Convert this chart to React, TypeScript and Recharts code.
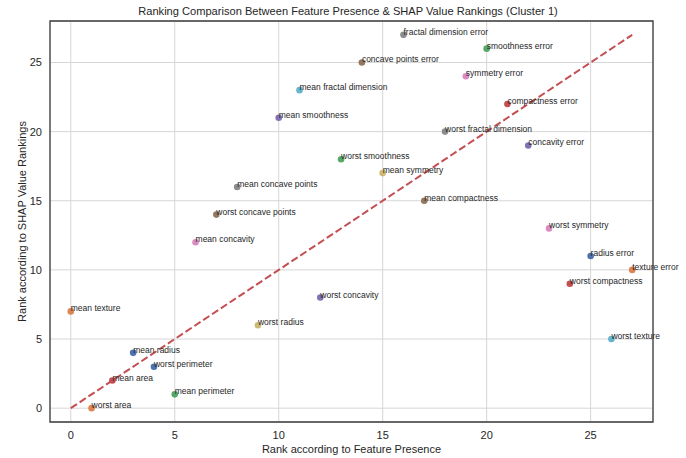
import React from "react";
import {
  ScatterChart,
  Scatter,
  XAxis,
  YAxis,
  CartesianGrid,
  ReferenceLine,
  ReferenceArea,
} from "recharts";

// Breast-cancer features kept for cluster 1, in plotting order
const features: string[] = [
  "mean radius",
  "mean texture",
  "mean perimeter",
  "mean area",
  "mean smoothness",
  "mean compactness",
  "mean concavity",
  "mean concave points",
  "mean symmetry",
  "mean fractal dimension",
  "radius error",
  "texture error",
  "smoothness error",
  "compactness error",
  "concavity error",
  "concave points error",
  "symmetry error",
  "fractal dimension error",
  "worst radius",
  "worst texture",
  "worst perimeter",
  "worst area",
  "worst smoothness",
  "worst compactness",
  "worst concavity",
  "worst concave points",
  "worst symmetry",
  "worst fractal dimension",
];

// Rank by how often each feature is present
const presenceRank: number[] = [
  3, 0, 5, 2, 10, 17, 6, 8, 15, 11, 25, 27, 20, 21, 22, 14, 19, 16, 9, 26, 4, 1,
  13, 24, 12, 7, 23, 18,
];

// Rank by mean absolute SHAP value
const shapRank: number[] = [
  4, 7, 1, 2, 21, 15, 12, 16, 17, 23, 11, 10, 26, 22, 19, 25, 24, 27, 6, 5, 3, 0,
  18, 9, 8, 14, 13, 20,
];

const axisTicks: number[] = [0, 5, 10, 15, 20, 25];

// seaborn "deep" colour cycle
const palette: string[] = [
  "#4C72B0",
  "#DD8452",
  "#55A868",
  "#C44E52",
  "#8172B3",
  "#937860",
  "#DA8BC3",
  "#8C8C8C",
  "#CCB974",
  "#64B5CD",
];

const points = features.map((name, i) => ({
  name,
  x: presenceRank[i],
  y: shapRank[i],
  color: palette[i % palette.length],
}));

const maxRank = Math.max(...presenceRank);

const FONT = "'Liberation Sans', Arial, sans-serif";
const TEXT = "#262626";

const PointWithLabel = (props: any) => {
  const { cx, cy, payload } = props;
  if (cx == null || cy == null) return null;
  return (
    <g>
      <circle cx={cx} cy={cy} r={3.3} fill={payload.color} />
      <text x={cx} y={cy} fontSize={8.5} fill={TEXT} fontFamily={FONT}>
        {payload.name}
      </text>
    </g>
  );
};

export default function App() {
  return (
    <div style={{ position: "absolute", left: 0, top: 0, background: "#fff" }}>
      <ScatterChart
        width={686}
        height={458}
        margin={{ top: 21, right: 33, bottom: 0, left: 0 }}
        style={{ fontFamily: FONT }}
      >
        <text
          x={348}
          y={15}
          textAnchor="middle"
          fontSize={11.1}
          fill={TEXT}
          fontFamily={FONT}
        >
          Ranking Comparison Between Feature Presence &amp; SHAP Value Rankings (Cluster 1)
        </text>
        <CartesianGrid stroke="#d6d6d6" strokeWidth={1} />
        <XAxis
          type="number"
          dataKey="x"
          domain={[-1, 28]}
          ticks={axisTicks}
          height={36}
          tickSize={0}
          tickMargin={9}
          axisLine={false}
          tickLine={false}
          tick={{ fontSize: 11, fill: TEXT }}
          label={{
            value: "Rank according to Feature Presence",
            position: "insideBottom",
            offset: 5,
            fontSize: 11,
            fill: TEXT,
          }}
        />
        <YAxis
          type="number"
          dataKey="y"
          domain={[-1, 28]}
          ticks={axisTicks}
          width={50}
          tickSize={0}
          tickMargin={8}
          axisLine={false}
          tickLine={false}
          tick={{ fontSize: 11, fill: TEXT }}
          label={{
            value: "Rank according to SHAP Value Rankings",
            content: (p: any) => {
              const vb = p.viewBox;
              const cy = vb.y + vb.height / 2;
              return (
                <text
                  x={25.5}
                  y={cy}
                  transform={`rotate(-90 25.5 ${cy})`}
                  textAnchor="middle"
                  fontSize={11}
                  fill={TEXT}
                  fontFamily={FONT}
                >
                  Rank according to SHAP Value Rankings
                </text>
              );
            },
          }}
        />
        <ReferenceLine
          segment={[
            { x: 0, y: 0 },
            { x: maxRank, y: maxRank },
          ]}
          stroke="#C44E52"
          strokeWidth={2}
          strokeDasharray="7.4 3.2"
          ifOverflow="visible"
        />
        <Scatter
          data={points}
          shape={PointWithLabel}
          isAnimationActive={false}
        />
        <ReferenceArea
          x1={-1}
          x2={28}
          y1={-1}
          y2={28}
          fill="none"
          fillOpacity={0}
          stroke="#3d3d3d"
          strokeWidth={1.3}
          ifOverflow="visible"
        />
      </ScatterChart>
    </div>
  );
}
